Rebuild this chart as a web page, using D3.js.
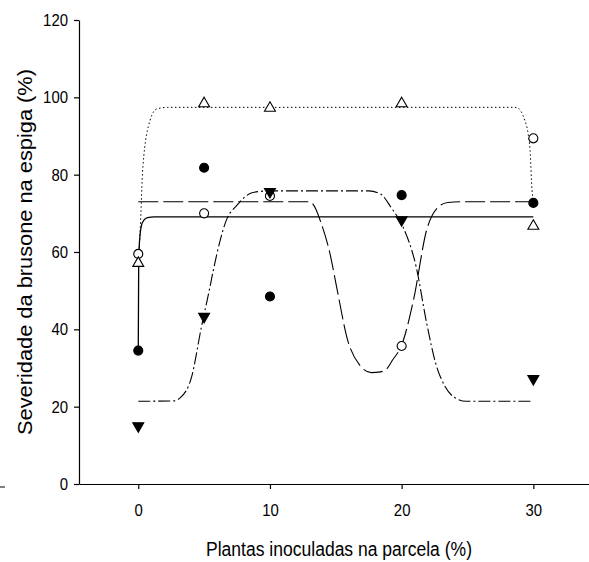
<!DOCTYPE html>
<html>
<head>
<meta charset="utf-8">
<script src="https://cdn.jsdelivr.net/npm/d3@7"></script>
<style>
  body { margin: 0; background: #fff; }
  text { font-family: Arial, "Liberation Sans", sans-serif; fill: #000; }
  .tick text { font-size: 17px; }
  .axis path, .axis line { stroke: #000; stroke-width: 1.2; }
</style>
</head>
<body>
<div id="chart"></div>
<script>
// observed points (x = % inoculated plants)
const xLevels = [0, 5, 10, 20, 30];
const filledCircles = [34.5, 81.8, 48.5, 74.7, 72.7];
const openCircles = [59.5, 70.0, 74.5, 35.7, 89.4];
const filledTriangles = [15.0, 43.3, 75.6, 68.3, 27.2];
const openTriangles = [57.1, 98.4, 97.2, 98.4, 66.7];

// fitted curves as [x, y]
const solidFit = [[0,34.5],[0.03,55],[0.1,63],[0.3,67.5],[0.7,68.9],[1.2,69.1],[30,69.1]];
const dashedFit = [[0,73],[13,73],[13.5,71],[13.8,68.3],[14.55,59.7],[15.06,51],[15.9,37.2],
  [16.8,30.8],[17.7,28.8],[18.4,29.0],[18.9,29.9],[19.3,32],[20,35.9],[20.9,47.6],
  [21.9,65.7],[22.8,71.7],[23.5,72.8],[24.5,73],[30,73]];
const dottedFit = [[0,57],[0.15,66],[0.35,82],[0.9,94.1],[1.4,97],[2.2,97.4],[28.7,97.4],
  [29.35,94.1],[29.6,90.7],[29.75,86.4],[29.9,76],[30,73.4]];
const dashDotFit = [[0,21.4],[2.7,21.5],[3.16,22.2],[4.05,27.7],[4.8,40.7],[5.4,50.2],[5.7,55.3],
  [6.7,68.3],[7.5,72.1],[8.7,75.4],[10,75.8],[17.5,75.8],[18.4,75],[19.2,71.5],[20.1,66.5],
  [21.1,56.2],[21.9,41.6],[22.6,31],[23.3,25.2],[24.2,22],[24.9,21.4],[30,21.4]];

const xTicks = [0, 10, 20, 30];
const yTicks = [0, 20, 40, 60, 80, 100, 120];

const W = 589, H = 562;
const svg = d3.select("#chart").append("svg")
    .attr("width", W).attr("height", H);

const x = d3.scaleLinear().domain([-4.5, 34.5]).range([79, 592.6]);
const y = d3.scaleLinear().domain([0, 120]).range([484, 20]);

// axes
svg.append("g")
    .attr("class", "axis")
    .attr("transform", "translate(0," + y(0) + ")")
  .call(d3.axisBottom(x).tickValues(xTicks).tickSize(5).tickPadding(15).tickSizeOuter(0))
  .selectAll(".tick text")
    .attr("textLength", function() { return this.textContent.length * 8.3; })
    .attr("lengthAdjust", "spacingAndGlyphs");

svg.append("g")
    .attr("class", "axis")
    .attr("transform", "translate(" + x(-4.5) + ",0)")
  .call(d3.axisLeft(y).tickValues(yTicks).tickSize(5).tickPadding(6).tickSizeOuter(0))
  .selectAll(".tick text")
    .attr("textLength", function() { return this.textContent.length * 8.3; })
    .attr("lengthAdjust", "spacingAndGlyphs");

// fitted lines
const line = d3.line()
    .x(d => x(d[0]))
    .y(d => y(d[1]))
    .curve(d3.curveMonotoneX);

const fits = [
  { data: solidFit, dash: null, w: 1.3 },
  { data: dashedFit, dash: "20,5", w: 1.1 },
  { data: dottedFit, dash: "1.5,2.5", w: 1 },
  { data: dashDotFit, dash: "12,3,2,3", w: 1.1 }
];
svg.append("g").selectAll("path")
  .data(fits)
  .join("path")
    .attr("d", d => line(d.data))
    .attr("fill", "none")
    .attr("stroke", "#000")
    .attr("stroke-width", d => d.w)
    .attr("stroke-dasharray", d => d.dash);

// markers
const series = [
  { vals: filledCircles, type: d3.symbolCircle, size: 64, fill: "#000", rot: 0 },
  { vals: openCircles, type: d3.symbolCircle, size: 64, fill: "#fff", rot: 0 },
  { vals: filledTriangles, type: d3.symbolTriangle, size: 52, fill: "#000", rot: 180 },
  { vals: openTriangles, type: d3.symbolTriangle, size: 52, fill: "#fff", rot: 0 }
];
series.forEach(s => {
  svg.append("g").selectAll("path")
    .data(s.vals.map((v, i) => [xLevels[i], v]))
    .join("path")
      .attr("d", d3.symbol().type(s.type).size(s.size))
      .attr("transform", d => "translate(" + x(d[0]) + "," + y(d[1]) + ") rotate(" + s.rot + ")")
      .attr("fill", s.fill)
      .attr("stroke", "#000")
      .attr("stroke-width", 1.1);
});

// axis titles
svg.append("text")
    .attr("x", 339)
    .attr("y", 556)
    .attr("text-anchor", "middle")
    .attr("textLength", 266)
    .attr("lengthAdjust", "spacingAndGlyphs")
    .style("font-size", "20px")
    .text("Plantas inoculadas na parcela (%)");

svg.append("text")
    .attr("transform", "translate(32,252) rotate(-90)")
    .attr("text-anchor", "middle")
    .attr("textLength", 366)
    .attr("lengthAdjust", "spacingAndGlyphs")
    .style("font-size", "21px")
    .text("Severidade da brusone na espiga (%)");

// stray mark at bottom left of the original
svg.append("line")
    .attr("x1", 0).attr("x2", 5)
    .attr("y1", 487).attr("y2", 487)
    .attr("stroke", "#000");
</script>
</body>
</html>
